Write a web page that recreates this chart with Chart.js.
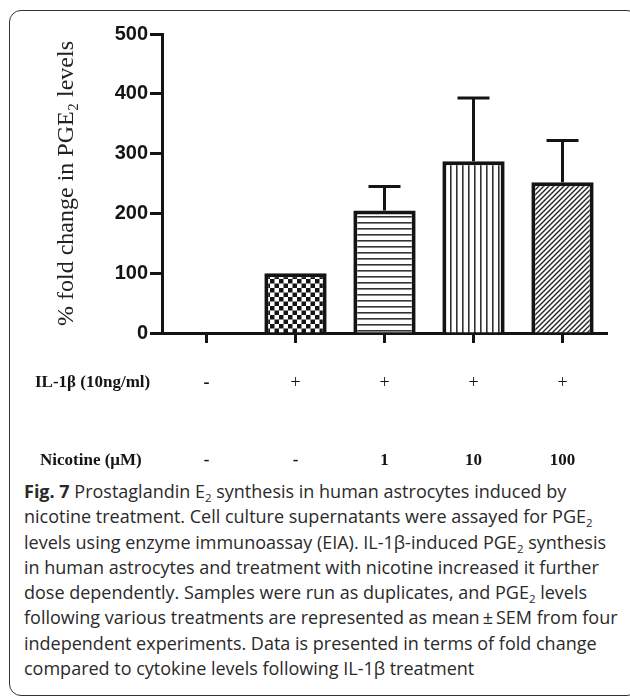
<!DOCTYPE html>
<html>
<head>
<meta charset="utf-8">
<script src="https://cdn.jsdelivr.net/npm/chart.js@4"></script>
<style>
  html, body { margin: 0; padding: 0; background: #fff; }
  body { width: 630px; height: 697px; position: relative; overflow: hidden; }
  #frame {
    position: absolute; left: 9px; top: 10px; width: 630px; height: 686px;
    border: 1.5px solid #333; border-radius: 12px; box-sizing: border-box;
  }
  #wrap { position: absolute; left: 0; top: 0; width: 630px; height: 470px; }
  #caption {
    position: absolute; left: 24px; top: 479px; width: 606px;
    font-family: "Open Sans", sans-serif; font-size: 18px; line-height: 25.3px;
    color: #2a2a2a; white-space: nowrap;
  }
  #caption sub { font-size: 11.5px; vertical-align: -4px; line-height: 0; }
</style>
</head>
<body>
<div id="frame"></div>
<div id="wrap"><canvas id="myChart" width="630" height="470"></canvas></div>
<div id="caption"><b>Fig. 7</b> Prostaglandin E<sub>2</sub> synthesis in human astrocytes induced by<br>nicotine treatment. Cell culture supernatants were assayed for PGE<sub>2</sub><br>levels using enzyme immunoassay (EIA). IL-1β-induced PGE<sub>2</sub> synthesis<br>in human astrocytes and treatment with nicotine increased it further<br>dose dependently. Samples were run as duplicates, and PGE<sub>2</sub> levels<br>following various treatments are represented as mean&#8201;±&#8201;SEM from four<br>independent experiments. Data is presented in terms of fold change<br>compared to cytokine levels following IL-1β treatment</div>
<script>
// values
const groups = ['ctrl', 'IL-1b', 'IL-1b + nic 1', 'IL-1b + nic 10', 'IL-1b + nic 100'];
const means = [0, 100, 205, 287, 252];
const sem = [0, 0, 40, 106, 70];
const ilRow = ['-', '+', '+', '+', '+'];
const nicRow = ['-', '-', '1', '10', '100'];
const yTicks = [0, 100, 200, 300, 400, 500];

const ink = '#141414';

function makePattern(kind) {
  const c = document.createElement('canvas');
  const g = c.getContext('2d');
  if (kind === 'checker') {
    c.width = 9; c.height = 9;
    g.fillStyle = '#fff'; g.fillRect(0, 0, 9, 9);
    g.fillStyle = ink;
    g.fillRect(0, 0, 4.5, 4.5); g.fillRect(4.5, 4.5, 4.5, 4.5);
  } else if (kind === 'hlines') {
    c.width = 6; c.height = 6;
    g.fillStyle = '#fff'; g.fillRect(0, 0, 6, 6);
    g.fillStyle = '#333'; g.fillRect(0, 0, 6, 1.6);
  } else if (kind === 'vlines') {
    c.width = 6; c.height = 6;
    g.fillStyle = '#fff'; g.fillRect(0, 0, 6, 6);
    g.fillStyle = '#333'; g.fillRect(0, 0, 1.6, 6);
  } else if (kind === 'diag') {
    c.width = 5; c.height = 5;
    g.fillStyle = '#fff'; g.fillRect(0, 0, 5, 5);
    g.strokeStyle = '#222'; g.lineWidth = 1.4;
    g.beginPath();
    g.moveTo(-1, 6); g.lineTo(6, -1);
    g.moveTo(-1, 1); g.lineTo(1, -1);
    g.moveTo(4, 6); g.lineTo(6, 4);
    g.stroke();
  }
  return g.createPattern(c, 'repeat');
}

const fills = [
  '#fff',
  makePattern('checker'),
  makePattern('hlines'),
  makePattern('vlines'),
  makePattern('diag')
];

const errorBars = {
  id: 'errorBars',
  afterDatasetsDraw(chart) {
    const ctx = chart.ctx;
    const y = chart.scales.y;
    const meta = chart.getDatasetMeta(0);
    ctx.save();
    ctx.strokeStyle = ink;
    ctx.lineWidth = 3;
    meta.data.forEach((bar, i) => {
      if (!sem[i]) return;
      const top = y.getPixelForValue(means[i] + sem[i]);
      const base = y.getPixelForValue(means[i]);
      ctx.beginPath();
      ctx.moveTo(bar.x, base);
      ctx.lineTo(bar.x, top);
      ctx.moveTo(bar.x - 16, top);
      ctx.lineTo(bar.x + 16, top);
      ctx.stroke();
    });
    ctx.restore();
  }
};

const rowLabels = {
  id: 'rowLabels',
  afterDraw(chart) {
    const ctx = chart.ctx;
    const x = chart.scales.x;
    ctx.save();
    ctx.fillStyle = ink;
    ctx.textBaseline = 'middle';
    ctx.textAlign = 'left';
    ctx.font = 'bold 17px "Liberation Serif", "Times New Roman", serif';
    ctx.fillText('IL-1β (10ng/ml)', 35, 383);
    ctx.fillText('Nicotine (μM)', 40, 461);
    ctx.textAlign = 'center';
    ilRow.forEach((t, i) => {
      ctx.font = (t === '+' ? '' : 'bold ') + '18px "Liberation Serif", serif';
      ctx.fillText(t, x.getPixelForValue(i), 383);
    });
    nicRow.forEach((t, i) => {
      ctx.font = 'bold 17px "Liberation Serif", serif';
      ctx.fillText(t, x.getPixelForValue(i), 461);
    });
    ctx.restore();
  }
};

new Chart(document.getElementById('myChart'), {
  type: 'bar',
  data: {
    labels: groups,
    datasets: [{
      data: means,
      backgroundColor: fills,
      borderColor: ink,
      borderWidth: 4,
      borderSkipped: 'bottom',
      barPercentage: 0.7,
      categoryPercentage: 1
    }]
  },
  options: {
    responsive: false,
    animation: false,
    layout: { padding: { top: 34, right: 23, left: 0, bottom: 0 } },
    plugins: { legend: { display: false }, tooltip: { enabled: false } },
    scales: {
      x: {
        offset: true,
        afterFit: (s) => { s.height = 137; },
        grid: { offset: false, drawOnChartArea: false, drawTicks: true, tickLength: 10, tickWidth: 3, tickColor: ink },
        border: { color: ink, width: 3 },
        ticks: { display: false }
      },
      y: {
        min: 0, max: 500,
        afterFit: (s) => { s.width = 162; },
        afterBuildTicks: (s) => { s.ticks = yTicks.map(v => ({ value: v })); },
        grid: { drawOnChartArea: false, drawTicks: true, tickLength: 12, tickWidth: 3, tickColor: ink },
        border: { color: ink, width: 3 },
        ticks: {
          padding: 2,
          color: ink,
          font: { family: '"Liberation Sans", Arial, sans-serif', size: 20, weight: 'bold' }
        },
        title: {
          display: true,
          text: '% fold change in PGE₂ levels',
          color: '#222',
          font: { family: '"Liberation Serif", "Times New Roman", serif', size: 24 },
          padding: { top: 52 }
        }
      }
    }
  },
  plugins: [errorBars, rowLabels]
});
</script>
</body>
</html>
